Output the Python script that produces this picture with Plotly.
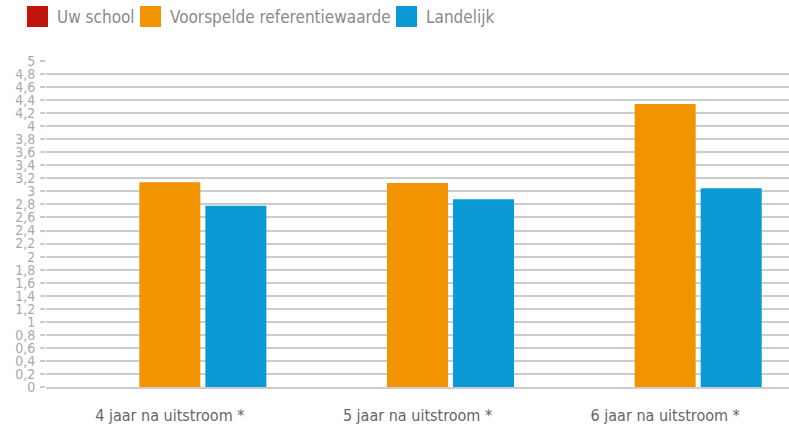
import plotly.graph_objects as go

categories = ["4 jaar na uitstroom *", "5 jaar na uitstroom *", "6 jaar na uitstroom *"]
series_names = ["Uw school", "Voorspelde referentiewaarde", "Landelijk"]
uw_school = [None, None, None]
voorspeld = [3.14, 3.13, 4.34]
landelijk = [2.78, 2.88, 3.05]
colors = ["#C1140A", "#F29400", "#0A9BD6"]

FONT = "Liberation Sans Narrow, DejaVu Sans Condensed, Roboto, sans-serif"
W, H = 789, 429
L, R, T, B = 46, 0, 61, 42
PW, PH = W - L - R, H - T - B

def px_x(p):
    return (p - L) / PW

def px_y(p):
    return (H - B - p) / PH

fig = go.Figure()
for name, vals, col in zip(series_names, [uw_school, voorspeld, landelijk], colors):
    fig.add_trace(go.Bar(x=categories, y=vals, name=name, marker_color=col,
                         marker_line_width=0, showlegend=False))

# manual legend (large squares like the reference)
leg_x = [27, 140, 396]
for name, col, x0 in zip(series_names, colors, leg_x):
    fig.add_shape(type="rect", xref="paper", yref="paper",
                  x0=px_x(x0), x1=px_x(x0 + 21), y0=px_y(27), y1=px_y(6),
                  fillcolor=col, line_width=0)
    fig.add_annotation(text=name, xref="paper", yref="paper",
                       x=px_x(x0 + 28), y=px_y(16.5), xanchor="left", yanchor="middle",
                       showarrow=False, font=dict(size=17, color="#8a8a8a", family=FONT))

fig.update_layout(
    width=W, height=H,
    margin=dict(l=L, r=R, t=T, b=B, autoexpand=False),
    paper_bgcolor="white", plot_bgcolor="white",
    separators=",.",
    barmode="group", bargap=0.2, bargroupgap=0.076,
    font=dict(family=FONT, color="#888888"),
    showlegend=False,
    xaxis=dict(showgrid=False, showline=True, linecolor="#cccccc", linewidth=2,
               tickfont=dict(size=16, color="#666666", family=FONT), ticks="",
               ticklabelstandoff=13),
    yaxis=dict(range=[0, 5], dtick=0.2, tick0=0, showgrid=True, gridcolor="#cccccc",
               gridwidth=2, zeroline=False, ticks="outside", ticklen=5,
               tickcolor="#cccccc", tickwidth=2, ticklabelstandoff=2,
               tickfont=dict(size=14, color="#aaaaaa", family=FONT)),
)

fig.write_html("out.html", config={"displayModeBar": False})

with open("out.html", "r", encoding="utf-8") as f:
    html = f.read()
html = html.replace("<head>", "<head><style>html,body{margin:0;padding:0;overflow:hidden;}</style>", 1)
with open("out.html", "w", encoding="utf-8") as f:
    f.write(html)
